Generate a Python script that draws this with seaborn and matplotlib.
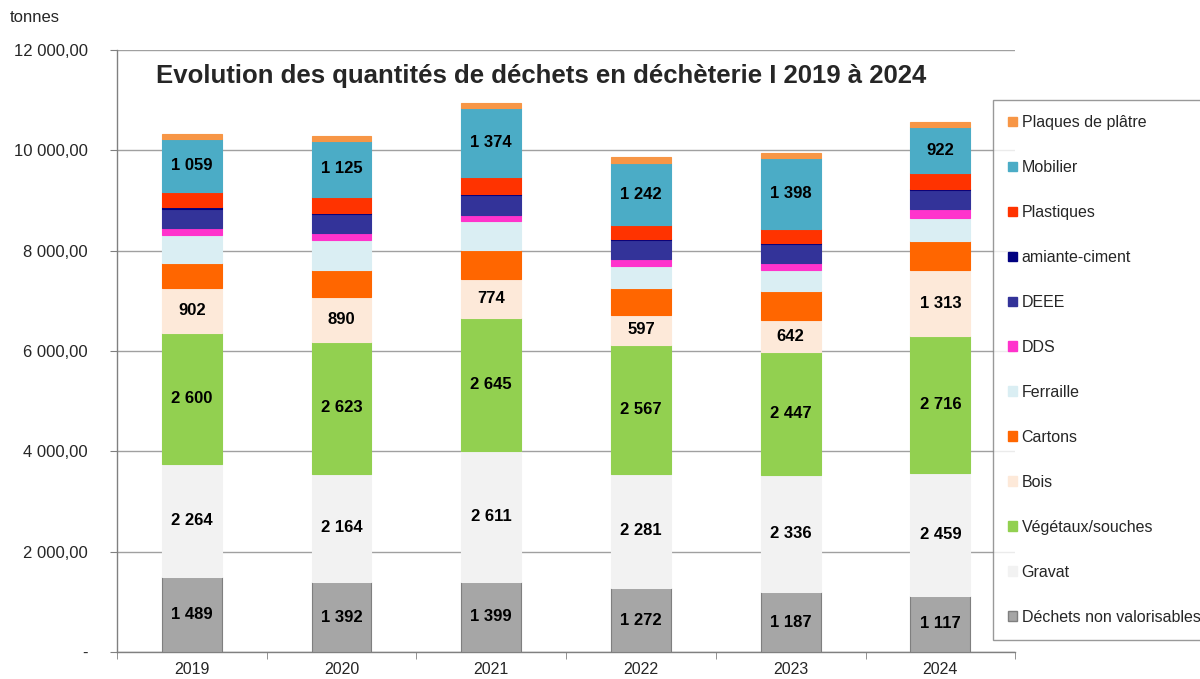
import matplotlib.pyplot as plt
import seaborn as sns
from matplotlib.patches import Patch
from matplotlib.ticker import FuncFormatter, FixedLocator

years = ["2019", "2020", "2021", "2022", "2023", "2024"]

# tonnages, du bas de la pile vers le haut
dechets_non_valo = [1489, 1392, 1399, 1272, 1187, 1117]
gravat = [2264, 2164, 2611, 2281, 2336, 2459]
vegetaux = [2600, 2623, 2645, 2567, 2447, 2716]
bois = [902, 890, 774, 597, 642, 1313]
cartons = [498, 552, 585, 546, 578, 578]
ferraille = [552, 584, 570, 425, 432, 472]
dds = [140, 140, 133, 140, 140, 166]
deee = [392, 386, 399, 379, 372, 392]
amiante = [27, 20, 20, 20, 20, 20]
plastiques = [305, 319, 331, 279, 285, 305]
mobilier = [1059, 1125, 1374, 1242, 1398, 922]
platre = [100, 100, 106, 113, 100, 106]

series_names = ["Déchets non valorisables", "Gravat", "Végétaux/souches", "Bois",
                "Cartons", "Ferraille", "DDS", "DEEE", "amiante-ciment",
                "Plastiques", "Mobilier", "Plaques de plâtre"]
series_values = [dechets_non_valo, gravat, vegetaux, bois, cartons, ferraille,
                 dds, deee, amiante, plastiques, mobilier, platre]
series_colors = ["#A6A6A6", "#F2F2F2", "#92D050", "#FDE9D9", "#FF6600", "#DAEEF3",
                 "#FF33CC", "#333399", "#000080", "#FF3300", "#4BACC6", "#F79646"]
labelled = {"Déchets non valorisables", "Gravat", "Végétaux/souches", "Bois", "Mobilier"}


def fmt_fr(v, pos=None):
    if v == 0:
        return "-"
    return f"{v:,.2f}".replace(",", " ").replace(".", ",")


def main():
    sns.set_style("white")
    plt.rcParams["font.family"] = ["Liberation Sans", "DejaVu Sans"]

    fig = plt.figure(figsize=(12, 6.79), dpi=100)
    ax = fig.add_axes([0.0975, 0.0398, 0.7485, 0.8866])

    bottom = [0] * len(years)
    for name, vals, col in zip(series_names, series_values, series_colors):
        edge = "#7F7F7F" if name == "Déchets non valorisables" else col
        sns.barplot(x=years, y=vals, order=years, bottom=bottom, color=col,
                    saturation=1, width=0.4, edgecolor=edge, linewidth=0.8,
                    ax=ax, zorder=3)
        if name in labelled:
            labels = [f"{v:,}".replace(",", " ") for v in vals]
            ax.bar_label(ax.containers[-1], labels=labels, label_type="center",
                         fontsize=12, fontweight="bold", color="black")
        bottom = [b + v for b, v in zip(bottom, vals)]

    ax.set_ylim(0, 12000)
    ax.set_xlim(-0.5, 5.5)
    ax.set_yticks(range(0, 12001, 2000))
    ax.yaxis.set_major_formatter(FuncFormatter(fmt_fr))
    ax.yaxis.grid(True, color="#A0A0A0", linewidth=1, zorder=0)
    ax.xaxis.grid(False)
    ax.set_xlabel("")
    ax.set_ylabel("")

    for side in ["top", "right"]:
        ax.spines[side].set_visible(False)
    for side in ["left", "bottom"]:
        ax.spines[side].set_color("#808080")
        ax.spines[side].set_linewidth(1)

    ax.tick_params(axis="y", direction="out", length=5, color="#808080",
                   pad=16, labelsize=12, left=True)
    ax.tick_params(axis="x", length=0, pad=7, labelsize=11.5)
    ax.xaxis.set_minor_locator(FixedLocator([i - 0.5 for i in range(len(years) + 1)]))
    ax.tick_params(axis="x", which="minor", direction="out", length=5,
                   color="#808080", bottom=True)

    ax.text(0.4717, 0.9447, "Evolution des quantités de déchets en déchèterie I 2019 à 2024",
            transform=ax.transAxes, ha="center", va="baseline", fontsize=18.5,
            fontweight="bold")
    fig.text(10 / 1200, 1 - 18 / 679, "tonnes", ha="left", va="center", fontsize=12)

    handles = [Patch(facecolor=c, edgecolor=("#7F7F7F" if n == "Déchets non valorisables" else c))
               for n, c in zip(series_names, series_colors)]
    leg = fig.legend(handles[::-1], series_names[::-1], loc="upper left",
                     bbox_to_anchor=(993 / 1200, 1 - 100 / 679),
                     bbox_transform=fig.transFigure, borderaxespad=0,
                     fontsize=11.5, labelspacing=1.875, borderpad=0.95,
                     handlelength=0.55, handleheight=0.55, handletextpad=0.3,
                     frameon=True, fancybox=False, edgecolor="#808080")
    leg.get_frame().set_linewidth(1)

    fig.savefig("out.png", dpi=100)


if __name__ == "__main__":
    main()
